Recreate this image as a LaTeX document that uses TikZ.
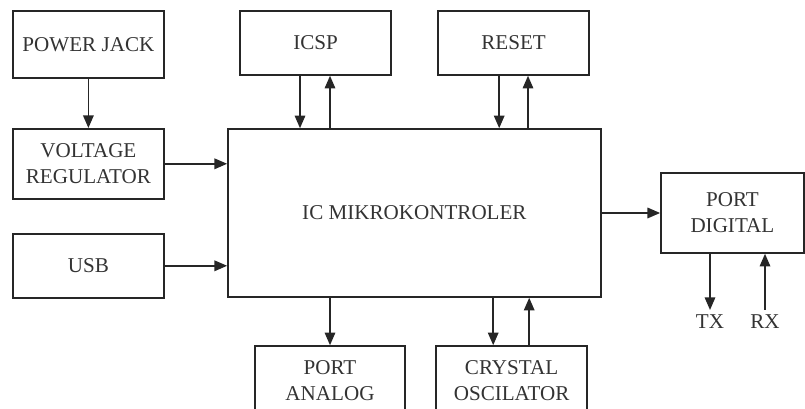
\documentclass[tikz,border=0pt]{standalone}
\usepackage{fontspec}
\setmainfont{Liberation Serif}
\usetikzlibrary{arrows.meta, calc}

\begin{document}
\begin{tikzpicture}
        \tikzset{blok/.style={draw=black!85, line width=1.1pt, rectangle, align=center,
                text=black!80, font=\fontsize{15}{18.5}\selectfont,
                minimum width=3.775cm, inner sep=0pt},
            pnh/.style={-{Triangle[length=9pt,width=7.5pt]}, line width=1.1pt, draw=black!85}}

        \clip (0, 0) rectangle (20.125, 10.225);

        % blok di kiri
        \node[blok, minimum height=1.675cm] (jack) at (2.21, 9.11) {POWER JACK};
        \node[blok, minimum height=1.75cm] (reg) at (2.21, 6.13) {VOLTAGE\\REGULATOR};
        \node[blok, minimum height=1.6cm] (usb) at (2.21, 3.58) {USB};

        % blok di atas
        \node[blok, minimum height=1.6cm] (icsp) at (7.89, 9.15) {ICSP};
        \node[blok, minimum height=1.6cm] (reset) at (12.84, 9.15) {RESET};

        % mikrokontroler
        \node[blok, minimum width=9.325cm, minimum height=4.2cm] (ic) at (10.36, 4.9) {IC MIKROKONTROLER};

        % port
        \node[blok, minimum width=3.575cm, minimum height=2cm] (digital) at (18.31, 4.9) {PORT\\DIGITAL};
        \node[blok, minimum width=3.75cm, minimum height=1.75cm] (analog) at (8.25, 0.7) {PORT\\ANALOG};
        \node[blok, minimum height=1.75cm] (crystal) at (12.79, 0.7) {CRYSTAL\\OSCILATOR};

        \node[text=black!80, font=\fontsize{15}{18.5}\selectfont, anchor=north] (tx) at (17.75, 2.475) {TX};
        \node[text=black!80, font=\fontsize{15}{18.5}\selectfont, anchor=north] (rx) at (19.125, 2.475) {RX};

        \draw[pnh] (jack) -- (reg);
        \draw[pnh] (reg.east) -- (reg.east -| ic.west);
        \draw[pnh] (usb) -- (usb -| ic.west);
        \draw[pnh] (ic.east) -- (digital.west);
        \draw[pnh] (analog.north |- ic.south) -- (analog.north);

        \draw[pnh] ([xshift=-0.39cm]icsp.south) -- ([xshift=-0.39cm]icsp.south |- ic.north);
        \draw[pnh] ([xshift=0.36cm]icsp.south |- ic.north) -- ([xshift=0.36cm]icsp.south);
        \draw[pnh] ([xshift=-0.36cm]reset.south) -- ([xshift=-0.36cm]reset.south |- ic.north);
        \draw[pnh] ([xshift=0.36cm]reset.south |- ic.north) -- ([xshift=0.36cm]reset.south);
        \draw[pnh] ([xshift=-0.46cm]crystal.north |- ic.south) -- ([xshift=-0.46cm]crystal.north);
        \draw[pnh] ([xshift=0.44cm]crystal.north) -- ([xshift=0.44cm]crystal.north |- ic.south);

        \draw[pnh] (tx.north |- digital.south) -- (tx.north);
        \draw[pnh] (rx.north) -- (rx.north |- digital.south);

    \end{tikzpicture}
\end{document}
